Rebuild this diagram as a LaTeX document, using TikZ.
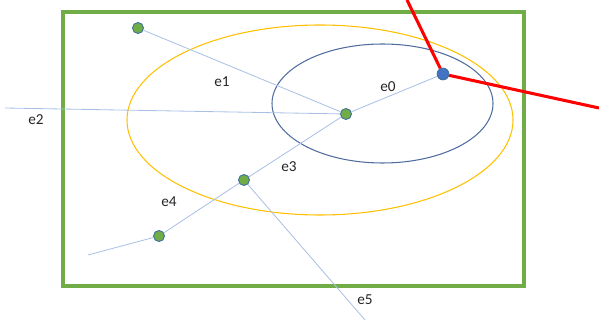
\documentclass[tikz,border=0pt]{standalone}
\usepackage{fontspec}
\setmainfont{Carlito}
\definecolor{framec}{HTML}{70AD47}
\definecolor{vgreen}{HTML}{70AD47}
\definecolor{vblue}{HTML}{4472C4}
\definecolor{vrim}{HTML}{41719C}
\definecolor{edgec}{HTML}{A9C0E6}
\definecolor{innerc}{HTML}{4F6D9E}
\definecolor{outerc}{HTML}{FFC000}
\definecolor{cutc}{HTML}{FF0000}

\begin{document}
\begin{tikzpicture}[
  x=0.03cm, y=-0.03cm,
  gvert/.style={circle, draw=vrim, line width=0.8pt, fill=vgreen, inner sep=0pt, minimum size=0.33cm},
  bvert/.style={circle, draw=vrim, line width=0.8pt, fill=vblue, inner sep=0pt, minimum size=0.35cm},
  edge/.style={draw=edgec, line width=0.7pt},
  cut/.style={draw=cutc, line width=2.6pt},
  lbl/.style={font=\fontsize{13}{15}\selectfont, text=black!85, inner sep=0pt}]
\useasboundingbox (0,0) rectangle (599,320);
% frame and regions
\draw[framec, line width=2.8pt] (63,12) rectangle (524,286);
\draw[outerc, line width=0.9pt] (320,120) ellipse [x radius=193, y radius=95];
\draw[innerc, line width=0.9pt] (382.5,103.5) ellipse [x radius=110.5, y radius=59.5];
% vertices
\node[gvert] (a) at (138,28)  {};
\node[gvert] (c) at (346,114) {};
\node[gvert] (d) at (244,180) {};
\node[gvert] (f) at (159,236) {};
\node[bvert] (b) at (443,74)  {};
% free ends
\coordinate (w2) at (5,108);
\coordinate (w4) at (88,255);
\coordinate (w5) at (365,320);
\coordinate (r1) at (407,0);
\coordinate (r2) at (599,108);
% edges
\draw[edge] (a) -- (c);
\draw[edge] (w2) -- (c);
\draw[edge] (c) -- (b);
\draw[edge] (c) -- (d);
\draw[edge] (d) -- (f);
\draw[edge] (f) -- (w4);
\draw[edge] (d) -- (w5);
\draw[cut] (r1) -- (b);
\draw[cut] (b) -- (r2);
% labels
\node[lbl] (l0) at (388,87)  {e0};
\node[lbl] (l1) at (222,82)  {e1};
\node[lbl] (l2) at (36,120)  {e2};
\node[lbl] (l3) at (289,167) {e3};
\node[lbl] (l4) at (169,202) {e4};
\node[lbl] (l5) at (365,300) {e5};
\end{tikzpicture}
\end{document}
